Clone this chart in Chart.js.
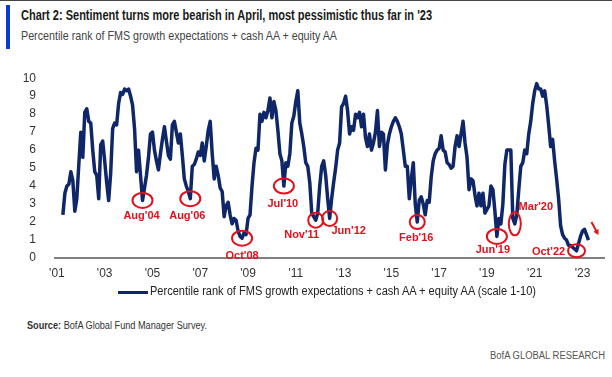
<!DOCTYPE html>
<html>
<head>
<meta charset="utf-8">
<script src="https://cdn.jsdelivr.net/npm/chart.js@4.4.0/dist/chart.umd.min.js"></script>
<style>
  html, body { margin: 0; padding: 0; background: #fff; }
  body { width: 612px; height: 377px; position: relative; overflow: hidden; font-family: "Liberation Sans", Arial, sans-serif; }
  .txt { position: absolute; white-space: nowrap; display: inline-block; transform-origin: left center; }
  #topline { position: absolute; left: 0; top: 0; width: 612px; height: 1px; background: #444; }
  #bar { position: absolute; left: 6px; top: 5px; width: 4px; height: 44px; background: #0b3bd3; }
  #title { left: 21px; top: 7px; font-size: 14px; font-weight: bold; color: #1a1a1a; }
  #subtitle { left: 21px; top: 28px; font-size: 13px; color: #444; }
  #chartBox { position: absolute; left: 0; top: 60px; width: 612px; height: 230px; }
  #legLine { position: absolute; left: 118px; top: 291px; width: 30px; height: 3px; background: #0f2668; }
  #legText { left: 150px; top: 284px; font-size: 12.5px; color: #222; }
  #source { left: 27px; top: 320px; font-size: 10px; color: #333; }
  #brand { left: 490px; top: 350px; font-size: 10px; color: #555; }
</style>
</head>
<body>
<div id="topline"></div>
<div id="bar"></div>
<div id="title" class="txt">Chart 2: Sentiment turns more bearish in April, most pessimistic thus far in '23</div>
<div id="subtitle" class="txt">Percentile rank of FMS growth expectations + cash AA + equity AA</div>
<div id="chartBox"><canvas id="fmsChart" width="612" height="230"></canvas></div>
<div id="legLine"></div>
<div id="legText" class="txt">Percentile rank of FMS growth expectations + cash AA + equity AA (scale 1-10)</div>
<div id="source" class="txt"><b>Source:</b> BofA Global Fund Manager Survey.</div>
<div id="brand" class="txt">BofA GLOBAL RESEARCH</div>
<script>
// monthly series, first value is Apr 2001
const startYear = 2001;
const startMonth = 4;
const sentiment = [
  2.4, 3.6, 4.0, 4.1, 4.8, 4.3, 2.6, 3.3, 5.2,                 // 2001 Apr-Dec
  7.0, 5.6, 8.1, 8.3, 7.6, 7.5, 6.0, 4.8, 4.6, 3.3, 6.3, 6.5,   // 2002
  5.4, 4.2, 3.2, 4.7, 7.2, 7.5, 7.4, 8.6, 9.2, 9.1, 9.4, 9.3,   // 2003
  9.4, 9.0, 8.5, 7.2, 4.8, 6.0, 4.6, 3.2, 3.9, 4.6, 5.6, 6.9,   // 2004
  7.0, 6.0, 5.4, 4.9, 5.8, 6.6, 7.3, 6.5, 5.7, 5.5, 7.4, 7.6,   // 2005
  7.0, 6.4, 6.9, 5.7, 4.4, 4.0, 3.7, 3.3, 5.1, 5.2, 5.5, 5.9,   // 2006
  5.7, 6.4, 5.4, 6.2, 7.1, 7.6, 5.8, 4.4, 5.1, 4.6, 3.9, 3.7,   // 2007
  2.3, 2.9, 3.1, 2.4, 1.9, 2.2, 2.1, 1.5, 1.2, 1.1, 1.4, 1.3,   // 2008
  2.2, 2.4, 4.0, 5.3, 6.1, 6.0, 8.0, 7.6, 8.1, 7.8, 8.2, 8.9,   // 2009
  7.8, 8.7, 8.2, 7.1, 5.8, 5.4, 4.0, 5.3, 5.1, 5.8, 7.5, 7.9,   // 2010
  8.7, 9.3, 7.5, 6.9, 6.2, 5.3, 5.1, 4.2, 2.5, 2.3, 2.1, 2.5,   // 2011
  4.0, 5.1, 5.4, 4.6, 3.3, 2.2, 3.3, 4.2, 5.0, 6.0, 6.4, 8.4,   // 2012
  8.6, 9.0, 8.2, 6.9, 7.3, 7.1, 8.0, 7.8, 8.1, 7.3, 8.0, 6.7,   // 2013
  6.2, 6.9, 6.0, 6.4, 7.0, 8.2, 6.2, 7.0, 6.9, 4.9, 6.3, 6.9,   // 2014
  7.3, 7.6, 7.8, 7.6, 7.3, 6.9, 6.0, 5.1, 5.1, 3.3, 4.4, 5.3,   // 2015
  3.0, 2.0, 3.2, 3.4, 3.0, 2.4, 3.2, 3.1, 4.5, 5.4, 5.8, 6.0,   // 2016
  6.1, 6.8, 6.0, 5.9, 5.3, 5.2, 5.0, 5.1, 6.2, 6.8, 6.2, 6.9,   // 2017
  7.6, 6.4, 5.6, 3.8, 4.4, 4.3, 3.5, 2.9, 3.6, 2.9, 3.6, 2.5,   // 2018
  2.7, 2.9, 4.0, 3.8, 2.6, 1.2, 2.2, 1.9, 3.0, 5.2, 6.0, 6.0,   // 2019
  6.0, 2.2, 1.9, 2.4, 3.8, 5.1, 5.3, 6.0, 5.8, 6.9, 7.6, 8.6,   // 2020
  9.3, 9.7, 9.4, 9.4, 9.0, 9.3, 8.5, 7.4, 6.2, 6.6, 5.4, 4.4,   // 2021
  3.3, 1.8, 1.3, 1.1, 1.0, 0.7, 0.7, 0.6, 0.5, 0.4, 0.8, 1.2,   // 2022
  1.5, 1.6, 1.3, 1.0                                            // 2023 Jan-Apr
];
const tickYears = [2001, 2003, 2005, 2007, 2009, 2011, 2013, 2015, 2017, 2019, 2021, 2023];
const tickLabels = ["'01", "'03", "'05", "'07", "'09", "'11", "'13", "'15", "'17", "'19", "'21", "'23"];
const lows = ["Aug'04", "Aug'06", "Oct'08", "Jul'10", "Nov'11", "Jun'12", "Feb'16", "Jun'19", "Mar'20", "Oct'22"];

const monthNames = ['Jan','Feb','Mar','Apr','May','Jun','Jul','Aug','Sep','Oct','Nov','Dec'];
const navy = '#0f2668';
const red = '#e3101b';

// ellipse size and label offset for each marked low
const lowStyle = {
  "Aug'04": { rx: 10, ry: 7.5, dx: -1, dy: 16 },
  "Aug'06": { rx: 10, ry: 7.5, dx: -3, dy: 17 },
  "Oct'08": { rx: 10, ry: 7.5, dx: 0, dy: 18 },
  "Jul'10": { rx: 10, ry: 7.5, dx: -1, dy: 18 },
  "Nov'11": { rx: 7.5, ry: 7.5, dx: -14, dy: 15 },
  "Jun'12": { rx: 7.5, ry: 7.5, dx: 19, dy: 13 },
  "Feb'16": { rx: 7.5, ry: 7, dx: -1, dy: 16 },
  "Jun'19": { rx: 10, ry: 7.5, dx: -4, dy: 14 },
  "Mar'20": { rx: 6, ry: 11.5, dx: 21, dy: -17 },
  "Oct'22": { rx: 8.5, ry: 6.5, dx: -28, dy: 1 }
};

function dateAt(i) {
  return startYear + (startMonth - 1) / 12 + i / 12;
}

const points = sentiment.map((v, i) => ({ x: dateAt(i), y: v }));

const lowMarkers = {
  id: 'lowMarkers',
  afterDatasetsDraw(chart) {
    const ctx = chart.ctx;
    const xs = chart.scales.x, ys = chart.scales.y;
    ctx.save();
    ctx.strokeStyle = red;
    ctx.fillStyle = red;
    ctx.lineWidth = 2;
    ctx.font = 'bold 11px "Liberation Sans", Arial, sans-serif';
    ctx.textAlign = 'center';
    ctx.textBaseline = 'middle';
    lows.forEach(name => {
      const m = monthNames.indexOf(name.slice(0, 3));
      const yr = 2000 + parseInt(name.slice(4), 10);
      const i = (yr - startYear) * 12 + m - (startMonth - 1);
      const px = xs.getPixelForValue(dateAt(i));
      const py = ys.getPixelForValue(sentiment[i]);
      const s = lowStyle[name];
      ctx.beginPath();
      ctx.ellipse(px, py, s.rx, s.ry, 0, 0, Math.PI * 2);
      ctx.stroke();
      ctx.fillText(name, px + s.dx, py + s.dy);
    });
    // arrow after the latest reading
    const last = sentiment.length - 1;
    const lx = xs.getPixelForValue(dateAt(last));
    const ly = ys.getPixelForValue(sentiment[last]);
    const x1 = lx + 3, y1 = ly - 18, x2 = lx + 10, y2 = ly - 5;
    const ang = Math.atan2(y2 - y1, x2 - x1);
    ctx.beginPath();
    ctx.moveTo(x1, y1);
    ctx.lineTo(x2 - 3 * Math.cos(ang), y2 - 3 * Math.sin(ang));
    ctx.stroke();
    ctx.beginPath();
    ctx.moveTo(x2, y2);
    ctx.lineTo(x2 - 6 * Math.cos(ang - 0.5), y2 - 6 * Math.sin(ang - 0.5));
    ctx.lineTo(x2 - 6 * Math.cos(ang + 0.5), y2 - 6 * Math.sin(ang + 0.5));
    ctx.closePath();
    ctx.fill();
    ctx.restore();
  }
};

const ctx = document.getElementById('fmsChart').getContext('2d');
new Chart(ctx, {
  type: 'line',
  data: {
    datasets: [{
      label: 'Percentile rank of FMS growth expectations + cash AA + equity AA (scale 1-10)',
      data: points,
      borderColor: navy,
      borderWidth: 3.5,
      pointRadius: 0,
      tension: 0,
      borderJoinStyle: 'round',
      fill: false
    }]
  },
  options: {
    responsive: false,
    animation: false,
    layout: { padding: { top: 15, right: 8, left: 0, bottom: 0 } },
    plugins: {
      legend: { display: false },
      tooltip: { enabled: false }
    },
    scales: {
      x: {
        type: 'linear',
        min: 2000.92,
        max: 2023.9,
        afterBuildTicks: scale => { scale.ticks = tickYears.map(v => ({ value: v })); },
        afterFit: scale => { scale.height = 32; },
        grid: { display: false },
        border: { display: true, color: '#808080', width: 2 },
        ticks: {
          autoSkip: false,
          maxRotation: 0,
          padding: 0,
          color: '#333',
          font: { family: '"Liberation Sans", Arial, sans-serif', size: 12 },
          callback: (value, index) => tickLabels[index]
        }
      },
      y: {
        min: 0,
        max: 10,
        afterFit: scale => { scale.width = 55; },
        grid: { display: false },
        border: { display: false },
        ticks: {
          stepSize: 1,
          padding: 11,
          color: '#333',
          font: { family: '"Liberation Sans", Arial, sans-serif', size: 12 }
        }
      }
    }
  },
  plugins: [lowMarkers]
});

// squeeze the text blocks to the condensed widths of the original
function fitWidth(id, target) {
  const el = document.getElementById(id);
  const w = el.getBoundingClientRect().width;
  el.style.transform = 'scaleX(' + (target / w) + ')';
}
fitWidth('title', 411);
fitWidth('subtitle', 316);
fitWidth('legText', 386);
fitWidth('source', 180);
fitWidth('brand', 115);
</script>
</body>
</html>
